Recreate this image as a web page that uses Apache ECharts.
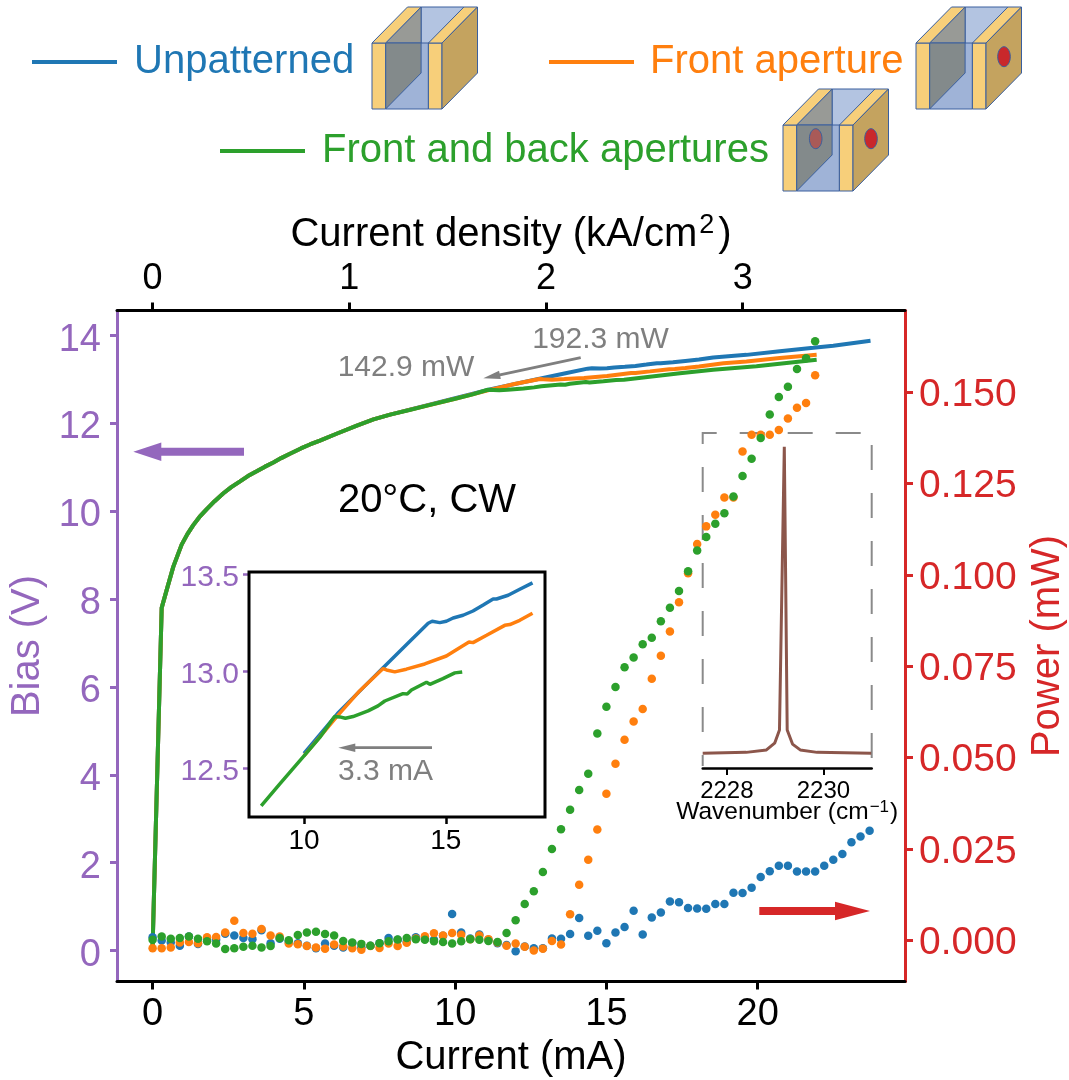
<!DOCTYPE html>
<html><head><meta charset="utf-8">
<style>html,body{margin:0;padding:0;background:#fff}#c{width:1069px;height:1080px}</style>
<script src="https://cdn.jsdelivr.net/npm/echarts@6/dist/echarts.min.js"></script>
</head><body><div id="c"></div>
<script>
const powerCurrent=[0,0.3,0.6,0.9,1.2,1.5,1.8,2.1,2.4,2.7,3.0,3.3,3.6,3.9,4.2,4.5,4.8,5.1,5.4,5.7,6.0,6.3,6.6,6.9,7.2,7.5,7.8,8.1,8.4,8.7,9.0,9.3,9.6,9.9,10.2,10.5,10.8,11.1,11.4,11.7,12.0,12.3,12.6,12.9,13.2,13.5,13.8,14.1,14.4,14.7,15.0,15.3,15.6,15.9,16.2,16.5,16.8,17.1,17.4,17.7,18.0,18.3,18.6,18.9,19.2,19.5,19.8,20.1,20.4,20.7,21.0,21.3,21.6,21.9,22.2,22.5,22.8,23.1,23.4,23.7];
const bluePower=[.0008,-.0001,-.0006,-.0015,.0010,-.0010,.0001,.0001,.0018,.0013,.0006,.0003,.0027,-.0008,.0004,-.0004,-.0008,-.0015,-.0022,-.0009,-.0015,-.0020,-.0008,-.0019,-.0015,-.0008,.0006,.0001,-.0004,.0008,.0005,.0001,.0012,.0072,.0021,.0005,.0016,.0001,-.0008,-.0013,-.0030,-.0017,-.0022,-.0022,.0005,.0004,.0017,.0061,.0012,.0026,-.0008,.0021,.0036,.0081,.0016,.0062,.0076,.0106,.0104,.0088,.0087,.0086,.0099,.0099,.0130,.0129,.0144,.0173,.0189,.0204,.0204,.0188,.0188,.0188,.0204,.0220,.0236,.0268,.0284,.0300];
const orangePower=[-.0022,-.0022,-.0020,-.0006,-.0005,-.0008,.0008,.0009,.0021,.0053,.0020,.0018,.0031,.0013,.0010,-.0009,-.0011,-.0016,-.0020,-.0023,-.0012,-.0017,-.0022,-.0026,-.0016,-.0021,-.0009,-.0016,-.0007,.0005,.0011,.0019,.0013,.0020,.0015,.0003,.0013,.0003,-.0006,-.0015,-.0009,-.0018,-.0028,-.0023,-.0002,-.0012,.0071,.0152,.0220,.0303,.0401,.0483,.0549,.0599,.0633,.0716,.0779,.0845,.0925,.1005,.1085,.1133,.1165,.1212,.1212,.1338,.1384,.1384,.1384,.1397,.1428,.1458,.1471,.1547];
const greenPower=[.0001,.0010,.0004,.0006,.0010,.0004,-.0003,-.0009,-.0024,-.0022,-.0018,-.0015,-.0020,-.0016,.0006,0,.0014,.0021,.0023,.0017,.0013,-.0002,-.0006,-.0010,-.0015,-.0008,-.0003,.0002,.0006,.0003,.0001,-.0003,-.0005,-.0009,-.0003,.0003,.0001,-.0002,-.0005,.0020,.0055,.0099,.0134,.0187,.0250,.0304,.0357,.0411,.0456,.0566,.0639,.0693,.0747,.0774,.0810,.0828,.0873,.0910,.0956,.1010,.1067,.1104,.1140,.1169,.1215,.1271,.1318,.1375,.1439,.1487,.1515,.1564,.1593,.1640];
const sharedBias=[[0,0.1],[0.3,7.8],[0.466,8.21],[0.685,8.74],[0.96,9.24],[1.15,9.48],[1.35,9.69],[1.55,9.87],[1.79,10.05],[2.05,10.23],[2.34,10.41],[2.6,10.55],[2.89,10.68],[3.15,10.8],[3.44,10.91],[3.7,11.01],[3.99,11.11],[4.25,11.21],[4.54,11.31],[4.9,11.43],[5.2,11.52],[5.53,11.61],[6.1,11.77],[6.75,11.95],[7.3,12.09],[7.85,12.2]];
const blueBias=[[10,12.575],[11.18,12.78],[12.79,13.017],[13.61,13.135],[14.38,13.246],[14.52,13.256],[14.79,13.249],[15.02,13.256],[15.26,13.273],[15.61,13.287],[15.96,13.309],[16.32,13.34],[16.67,13.371],[16.79,13.371],[17.2,13.39],[17.61,13.421],[18.06,13.454]];
const blueTail=[[18.53,13.5],[19.63,13.56],[20.73,13.64],[21.84,13.72],[22.5,13.77],[23.73,13.88]];
const orangeBias=[[10,12.562],[11.18,12.768],[11.96,12.897],[12.79,13.012],[12.91,13.005],[13.2,12.995],[13.61,13.009],[14.26,13.036],[15.02,13.077],[15.49,13.12],[15.82,13.149],[15.96,13.146],[16.44,13.184],[17.08,13.235],[17.26,13.239],[17.61,13.261],[18.06,13.297]];
const orangeTail=[[18.87,13.37],[19.63,13.41],[20.73,13.49],[21.95,13.56]];
const greenBias=[[8.49,12.304],[9.14,12.416],[10,12.562],[10.55,12.656],[11.08,12.765],[11.26,12.763],[11.46,12.756],[11.73,12.765],[12.26,12.794],[12.61,12.82],[12.85,12.845],[13.49,12.883],[13.64,12.881],[13.79,12.902],[14.32,12.942],[14.44,12.931],[14.9,12.96],[15.32,12.99],[15.58,12.995]];
const greenTail=[[17.43,13.14],[18.53,13.22],[19.96,13.3],[21.95,13.45]];
const spectrum=[[2227.5,0],[2228.4,.003],[2228.82,.011],[2228.99,.033],[2229.09,.076],[2229.19,1],[2229.25,.076],[2229.36,.03],[2229.52,.011],[2229.87,.003],[2230.99,0]];
const currentTicks=[0,5,10,15,20];
const densityTicks=[0,1,2,3];
const biasTicks=[0,2,4,6,8,10,12,14];
const powerTicks=[0,.025,.05,.075,.1,.125,.15];
const insetXTicks=[10,15];
const insetYTicks=[12.5,13,13.5];
const specTicks=[2228,2230];

const BLUE='#1f77b4',ORANGE='#ff7f0e',GREEN='#2ca02c',RED='#d62728',PURPLE='#9467bd',BROWN='#8c564b',GRAY='#7f7f7f';
const FONT='"Liberation Sans",Arial,sans-serif';
const zip=(xs,ys)=>ys.map((y,i)=>[xs[i],y]);

function arrow(x1,y1,x2,y2,w,hl,hw,color){
  const L=Math.hypot(x2-x1,y2-y1),ux=(x2-x1)/L,uy=(y2-y1)/L,nx=-uy,ny=ux;
  const bx=x2-ux*hl,by=y2-uy*hl;
  return {type:'polygon',silent:true,z:20,shape:{points:[[x1+nx*w,y1+ny*w],[bx+nx*w,by+ny*w],[bx+nx*hw,by+ny*hw],[x2,y2],[bx-nx*hw,by-ny*hw],[bx-nx*w,by-ny*w],[x1-nx*w,y1-ny*w]]},style:{fill:color}};
}
function poly(pts,fill,stroke){return {type:'polygon',silent:true,z:30,shape:{points:pts},style:{fill:fill,stroke:stroke||'#3a5f9e',lineWidth:1}};}
function cube(x,y,front,back){
  const d=35.5,h=36,H=66,W=70,a=13.6,b=56.4;
  const out=[
    poly([[x+a+d,y-h],[x+b+d,y-h],[x+b+d,y-h+H],[x+a+d,y-h+H]],'#b3c4e1'),
    poly([[x+a,y],[x+b,y],[x+b,y+H],[x+a,y+H]],'#9fb3d7'),
    poly([[x+a,y],[x+a+d,y-h],[x+a+d,y],[x+a,y]],'#989a96'),
    poly([[x+a,y],[x+a+d,y],[x+a+d,y-h+H],[x+a,y+H]],'#838a8b'),
    poly([[x,y],[x+a,y],[x+a,y+H],[x,y+H]],'#f7cf7a'),
    poly([[x,y],[x+a,y],[x+a+d,y-h],[x+d,y-h]],'#f7cf7a'),
    poly([[x+b,y],[x+W,y],[x+W,y+H],[x+b,y+H]],'#f7cf7a'),
    poly([[x+b,y],[x+W,y],[x+W+d,y-h],[x+b+d,y-h]],'#f7cf7a'),
    poly([[x+W,y],[x+W+d,y-h],[x+W+d,y-h+H],[x+W,y+H]],'#c4a35f')
  ];
  if(front)out.push({type:'ellipse',silent:true,z:31,shape:{cx:x+88,cy:y+13.7,rx:6.3,ry:10},style:{fill:'#c9282b',stroke:'#3a5f9e',lineWidth:1}});
  if(back)out.push({type:'ellipse',silent:true,z:31,shape:{cx:x+32.7,cy:y+13.7,rx:6.3,ry:10},style:{fill:'#a95a58',stroke:'#3a5f9e',lineWidth:1}});
  return out;
}
function note(text,x,y,size,color){return {type:'text',silent:true,z:25,x:x,y:y,style:{text:text,fill:color,font:size+'px '+FONT,textAlign:'center',textVerticalAlign:'middle'}};}

const lineSeries=(name,data,color,xi,yi,w)=>({name,type:'line',data,xAxisIndex:xi,yAxisIndex:yi,showSymbol:false,symbol:'none',smooth:false,lineStyle:{color,width:w},itemStyle:{color},clip:true,animation:false,z:3});
const dotSeries=(name,data,color)=>({name,type:'scatter',data,xAxisIndex:0,yAxisIndex:1,symbolSize:8.5,itemStyle:{color,opacity:1},animation:false,z:4});

const tick=(color,len,w)=>({show:true,inside:false,length:len,lineStyle:{color,width:w}});
const legendOf=(name,color,left,top,size,pad)=>({show:true,data:[{name,icon:'rect'}],left,top,padding:0,itemWidth:85,itemHeight:4,selectedMode:false,textStyle:{color,fontSize:size,fontFamily:FONT,padding:[0,0,0,pad]}});
const lowered=(color,size,pad)=>({a:{color,fontSize:size,fontFamily:FONT,padding:[pad,0,0,0]}});

const option={
  animation:false,backgroundColor:'#fff',textStyle:{fontFamily:FONT},
  legend:[legendOf('Unpatterned',BLUE,32,42,40,12),legendOf('Front aperture',ORANGE,549,42,40,11),legendOf('Front and back apertures',GREEN,220,131,40,12)],
  grid:[
    {left:117,top:310.5,width:788,height:671,outerBoundsMode:'none'},
    {left:249,top:572,width:296,height:245,show:true,backgroundColor:'#fff',borderColor:'#000',borderWidth:3,z:2,outerBoundsMode:'none'},
    {left:702.7,top:433,width:169,height:335,outerBoundsMode:'none'}
  ],
  xAxis:[
    {type:'value',gridIndex:0,position:'bottom',min:-1.177,max:24.87,splitLine:{show:false},
     axisLine:{show:true,onZero:false,lineStyle:{color:'#000',width:3}},axisTick:{...tick('#000',8,3),customValues:currentTicks},
     axisLabel:{customValues:currentTicks,color:'#000',fontSize:38,margin:14,fontFamily:FONT},
     name:'Current (mA)',nameLocation:'middle',nameGap:56,nameTextStyle:{color:'#000',fontSize:40,fontFamily:FONT}},
    {type:'value',gridIndex:0,position:'top',min:-0.181,max:3.825,splitLine:{show:false},
     axisLine:{show:true,onZero:false,lineStyle:{color:'#000',width:3}},axisTick:{...tick('#000',8,3),customValues:densityTicks},
     axisLabel:{customValues:densityTicks,color:'#000',fontSize:36,margin:13,fontFamily:FONT},
     name:'{n|Current density (kA/cm}{s|2}{n|)}',nameLocation:'middle',nameGap:54,
     nameTextStyle:{rich:{n:{color:'#000',fontSize:40,fontFamily:FONT},s:{color:'#000',fontSize:27,fontFamily:FONT,padding:[0,4,17,2]}}}},
    {type:'value',gridIndex:1,position:'bottom',min:8.06,max:18.5,splitLine:{show:false},
     axisLine:{show:false,onZero:false},axisTick:{...tick('#000',7,2.5),customValues:insetXTicks},
     axisLabel:{customValues:insetXTicks,color:'#000',fontSize:28,margin:10,fontFamily:FONT}},
    {type:'value',gridIndex:2,position:'bottom',min:2227.5,max:2231,splitLine:{show:false},
     axisLine:{show:true,onZero:false,lineStyle:{color:'#000',width:2.5}},axisTick:{...tick('#000',7,2),customValues:specTicks},
     axisLabel:{customValues:specTicks,color:'#000',fontSize:24,margin:11,fontFamily:FONT,formatter:v=>String(v)},
     name:'{n|Wavenumber (cm}{s|−1}{n|)}',nameLocation:'middle',nameGap:31,nameMoveOverlap:false,
     nameTextStyle:{rich:{n:{color:'#000',fontSize:24.5,fontFamily:FONT},s:{color:'#000',fontSize:17,fontFamily:FONT,padding:[0,1,9,1]}}}}
  ],
  yAxis:[
    {type:'value',gridIndex:0,position:'left',min:-0.705,max:14.57,splitLine:{show:false},
     axisLine:{show:true,onZero:false,lineStyle:{color:PURPLE,width:3}},axisTick:{...tick(PURPLE,7,3),customValues:biasTicks},
     axisLabel:{customValues:biasTicks,margin:16,formatter:v=>'{a|'+v+'}',rich:lowered(PURPLE,38,9)},
     name:'Bias (V)',nameLocation:'middle',nameGap:60,nameTextStyle:{color:PURPLE,fontSize:40,fontFamily:FONT}},
    {type:'value',gridIndex:0,position:'right',min:-0.0113,max:0.1724,splitLine:{show:false},
     axisLine:{show:true,onZero:false,lineStyle:{color:RED,width:3}},axisTick:{...tick(RED,8,3),customValues:powerTicks},
     axisLabel:{customValues:powerTicks,margin:14,formatter:v=>'{a|'+v.toFixed(3)+'}',rich:lowered(RED,39,6)},
     name:'Power (mW)',nameLocation:'middle',nameRotate:90,nameGap:121,nameTextStyle:{color:RED,fontSize:40,fontFamily:FONT}},
    {type:'value',gridIndex:1,position:'left',min:12.247,max:13.51,splitLine:{show:false},
     axisLine:{show:false,onZero:false},axisTick:{...tick(PURPLE,6,2.5),customValues:insetYTicks},
     axisLabel:{customValues:insetYTicks,margin:10,formatter:v=>'{a|'+v.toFixed(1)+'}',rich:lowered(PURPLE,30,7)}},
    {type:'value',gridIndex:2,position:'left',min:-0.048,max:1.045,show:false,splitLine:{show:false}}
  ],
  series:[
    lineSeries('Unpatterned',sharedBias.concat(blueBias,blueTail),BLUE,0,0,4),
    lineSeries('Front aperture',sharedBias.concat(orangeBias,orangeTail),ORANGE,0,0,4),
    lineSeries('Front and back apertures',sharedBias.concat(greenBias,greenTail),GREEN,0,0,4),
    dotSeries('Unpatterned power',zip(powerCurrent,bluePower),BLUE),
    dotSeries('Front aperture power',zip(powerCurrent,orangePower),ORANGE),
    dotSeries('Front and back power',zip(powerCurrent,greenPower),GREEN),
    lineSeries('Inset unpatterned',blueBias,BLUE,2,2,3.5),
    lineSeries('Inset front',orangeBias,ORANGE,2,2,3.5),
    lineSeries('Inset front and back',greenBias,GREEN,2,2,3.5),
    lineSeries('Spectrum',spectrum,BROWN,3,3,3)
  ],
  graphic:{elements:[
    ...cube(372,43,false,false),...cube(916,43,true,false),...cube(783,125,true,true),
    {type:'polyline',silent:true,z:1,shape:{points:[[702.7,766],[702.7,433],[871.7,433],[871.7,766]]},style:{fill:null,stroke:'#8a8a8a',lineWidth:2,lineDash:[25,23],lineDashOffset:14}},
    arrow(244,451.7,133.3,451.7,4,28,9.3,PURPLE),
    arrow(759.3,911,870,911,4,35,9.3,RED),
    arrow(580.7,357.7,483.3,378.3,1.4,17,4.2,GRAY),
    arrow(432,747.7,338.3,747.7,1.4,17,4.2,GRAY),
    note('192.3 mW',600.5,340,30,GRAY),
    note('142.9 mW',406,368,30,GRAY),
    note('3.3 mA',385.5,772,30,GRAY),
    note('20°C, CW',427,501,40,'#000')
  ]}
};
const chart=echarts.init(document.getElementById('c'),null,{renderer:'canvas',width:1069,height:1080});
chart.setOption(option);
</script></body></html>
